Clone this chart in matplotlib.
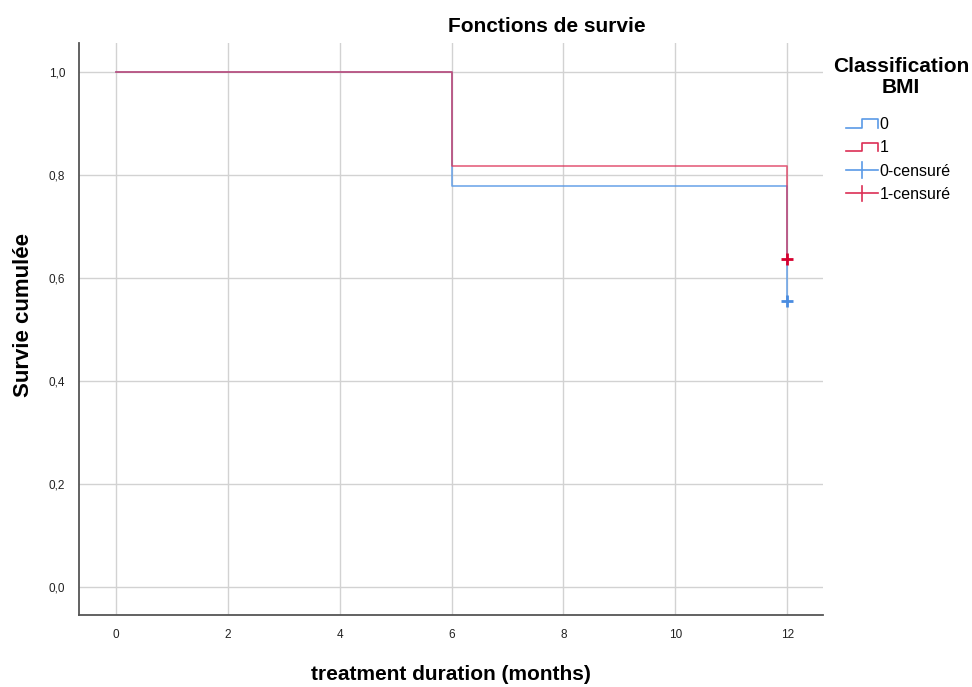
import matplotlib
matplotlib.use("Agg")
import matplotlib.pyplot as plt
from matplotlib.legend_handler import HandlerBase
from matplotlib.lines import Line2D
import numpy as np

plt.rcParams['font.family'] = ['Liberation Sans', 'DejaVu Sans']

# Data (Kaplan-Meier step functions)
groups = ['0', '1']
times_0 = [0, 6, 12]
surv_0 = [1.0, 0.778, 0.556]
times_1 = [0, 6, 12]
surv_1 = [1.0, 0.818, 0.636]
censor_t = [12, 12]
censor_s = [0.556, 0.636]
xticks = [0, 2, 4, 6, 8, 10, 12]
yticks = [0.0, 0.2, 0.4, 0.6, 0.8, 1.0]

blue = '#5A9AE6'
red = '#DC2F55'

fig = plt.figure(figsize=(9.72, 6.87), dpi=100)
ax = fig.add_axes([79/972, 1-615/687, (823-79)/972, (615-43)/687])

ax.set_xlim(-0.66, 12.64)
ax.set_ylim(-0.0544, 1.0563)
ax.set_xticks(xticks)
ax.set_yticks(yticks)
ax.set_xticklabels([str(t) for t in xticks])
ax.set_yticklabels([f"{v:.1f}".replace('.', ',') for v in yticks])
ax.grid(True, color='#d2d2d2', linewidth=1.0)
ax.set_axisbelow(True)
for s in ['top', 'right']:
    ax.spines[s].set_visible(False)
for s in ['left', 'bottom']:
    ax.spines[s].set_color('#555555')
    ax.spines[s].set_linewidth(1.3)
ax.tick_params(length=0, labelsize=8.5, colors='#222222', pad=10)

ax.step(times_0, surv_0, where='post', color=blue, lw=1.2, alpha=0.85)
ax.step(times_1, surv_1, where='post', color=red, lw=1.2, alpha=0.75)
ax.plot([censor_t[0]], [censor_s[0]], marker='+', color='#4A8CE0', ms=9, mew=2, ls='none')
ax.plot([censor_t[1]], [censor_s[1]], marker='+', color='#D6002F', ms=9, mew=2, ls='none')

fig.text(547/972, 1-27/687, 'Fonctions de survie', ha='center', va='center', fontsize=15, fontweight='bold')
fig.text(24/972, 1-315/687, 'Survie cumulée', ha='center', va='center', rotation=90, fontsize=16, fontweight='bold')
fig.text(451/972, 1-675/687, 'treatment duration (months)', ha='center', va='center', fontsize=15, fontweight='bold')


class StepHandler(HandlerBase):
    def create_artists(self, legend, orig_handle, xdescent, ydescent, width, height, fontsize, trans):
        c = orig_handle.get_color()
        x = [0, width*0.5, width*0.5, width, width]
        y = [height*0.1, height*0.1, height*0.85, height*0.85, height*0.1]
        l = Line2D(np.array(x) - xdescent, np.array(y) - ydescent, color=c, lw=1.2, transform=trans)
        return [l]


class CrossHandler(HandlerBase):
    def create_artists(self, legend, orig_handle, xdescent, ydescent, width, height, fontsize, trans):
        c = orig_handle.get_color()
        l1 = Line2D([-xdescent, width - xdescent], [height*0.5 - ydescent]*2, color=c, lw=1.2, transform=trans)
        l2 = Line2D([width*0.5 - xdescent]*2, [-ydescent - height*0.2, height*1.2 - ydescent], color=c, lw=1.2, transform=trans)
        return [l1, l2]


h0 = Line2D([], [], color=blue)
h1 = Line2D([], [], color=red)
hc0 = Line2D([], [], color=blue, marker='+')
hc1 = Line2D([], [], color=red, marker='+')

leg = fig.legend([h0, h1, hc0, hc1], ['0', '1', '0-censuré', '1-censuré'],
                 loc='upper left', bbox_to_anchor=(846/972, 1-117/687),
                 frameon=False, fontsize=11.5, handlelength=2.0, handletextpad=0.1,
                 labelspacing=0.52, borderaxespad=0, borderpad=0,
                 handler_map={h0: StepHandler(), h1: StepHandler(), hc0: CrossHandler(), hc1: CrossHandler()})
fig.text(901/972, 1-77/687, 'Classification\nBMI', ha='center', va='center', fontsize=15,
         fontweight='bold', linespacing=1.15)

fig.savefig('out.png', dpi=100)
